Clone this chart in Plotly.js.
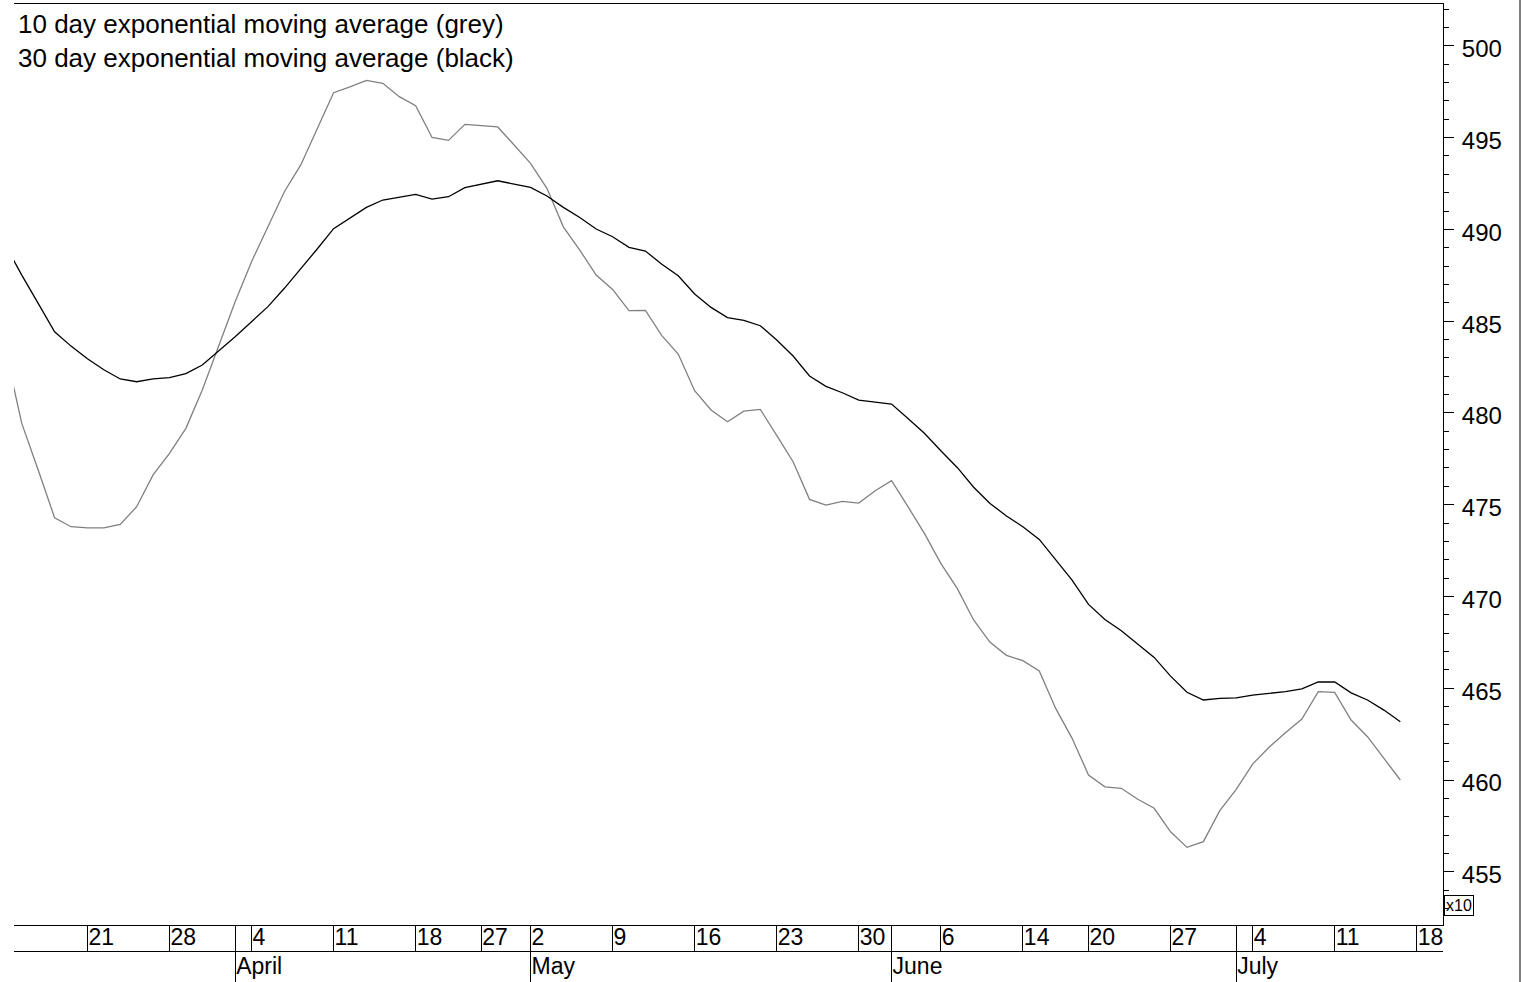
<!DOCTYPE html>
<html>
<head>
<meta charset="utf-8">
<script src="https://cdn.plot.ly/plotly-3.0.1.min.js"></script>
<style>html,body{margin:0;padding:0;background:#fff;}#chart{width:1522px;height:982px;}</style>
</head>
<body>
<div id="chart"></div>
<script>
// Trading-day index (0 = 14 March) for each point
const dayIndex = [0,1,2,3,4,5,6,7,8,9,10,11,12,13,14,15,16,17,18,19,20,21,22,23,24,25,26,27,28,29,30,31,32,33,34,35,36,37,38,39,40,41,42,43,44,45,46,47,48,49,50,51,52,53,54,55,56,57,58,59,60,61,62,63,64,65,66,67,68,69,70,71,72,73,74,75,76,77,78,79,80,81,82,83,84,85];

// 10 day exponential moving average (grey)
const ema10 = [483.43,479.43,476.89,474.29,473.80,473.74,473.74,473.93,474.89,476.62,
  477.80,479.16,481.25,483.61,486.06,488.24,490.14,492.05,493.51,495.50,
  497.45,497.77,498.12,497.96,497.23,496.74,495.01,494.85,495.72,495.65,
  495.58,494.60,493.60,492.24,490.14,488.87,487.51,486.73,485.57,485.59,
  484.21,483.21,481.21,480.16,479.52,480.10,480.19,478.78,477.34,475.29,
  474.98,475.18,475.09,475.76,476.31,474.89,473.44,471.80,470.44,468.72,
  467.50,466.79,466.50,465.94,463.90,462.27,460.27,459.63,459.55,458.95,
  458.46,457.18,456.33,456.64,458.33,459.49,460.87,461.78,462.58,463.32,
  464.81,464.77,463.27,462.36,461.18,460.00];

// 30 day exponential moving average (black)
const ema30 = [489.15,487.51,485.97,484.42,483.64,482.95,482.35,481.85,481.70,481.85,
  481.92,482.14,482.61,483.37,484.15,484.97,485.79,486.79,487.83,488.93,
  490.04,490.60,491.20,491.60,491.75,491.91,491.65,491.78,492.27,492.47,
  492.65,492.47,492.29,491.82,491.20,490.65,490.02,489.60,489.02,488.82,
  488.10,487.47,486.48,485.75,485.19,485.04,484.75,483.97,483.10,482.01,
  481.45,481.10,480.70,480.59,480.48,479.70,478.89,477.94,477.03,475.95,
  475.07,474.38,473.80,473.11,471.98,470.89,469.57,468.75,468.13,467.39,
  466.68,465.66,464.78,464.36,464.45,464.48,464.63,464.72,464.81,464.96,
  465.35,465.34,464.75,464.36,463.81,463.17];

// Day tick labels (trading-day index, label)
const dayTickIndex = [0,5,10,15,20,25,29,32,37,42,47,52,57,62,66,71,76,81,86];
const dayTickText  = ["14","21","28","4","11","18","27","2","9","16","23","30","6","14","20","27","4","11","18"];

// Month tick labels (first trading day of each month)
const monthTickIndex = [14,32,54,75];
const monthTickText  = ["April","May","June","July"];

const legendLines = ["10 day exponential moving average (grey)","30 day exponential moving average (black)"];

const xRange = [0.526, 87.6];
const yRange = [452.10, 502.28];
const FONT = "Liberation Sans, Arial, Helvetica, sans-serif";

const traces = [
  {x: dayIndex, y: ema10, xaxis: "x", yaxis: "y", type: "scatter", mode: "lines",
   line: {color: "#808080", width: 1.3}, hoverinfo: "skip"},
  {x: dayIndex, y: ema30, xaxis: "x2", yaxis: "y", type: "scatter", mode: "lines",
   line: {color: "#000000", width: 1.3}, hoverinfo: "skip"}
];

const layout = {
  width: 1522, height: 982,
  margin: {l: 14, r: 79, t: 4, b: 0, pad: 0},
  paper_bgcolor: "#fff", plot_bgcolor: "#fff",
  showlegend: false,
  font: {family: FONT, size: 24, color: "#000"},
  // month row: ticks hang from the plot bottom down through both label rows
  xaxis: {
    range: xRange, showgrid: false, zeroline: false,
    showline: true, linecolor: "#000", linewidth: 1, mirror: true,
    tickmode: "array", tickvals: monthTickIndex, ticktext: monthTickText,
    ticks: "outside", ticklen: 57, tickwidth: 1, tickcolor: "#000",
    ticklabelposition: "outside right", ticklabelstandoff: 20,
    tickfont: {family: FONT, size: 23, color: "#000"}, fixedrange: true
  },
  // day row
  xaxis2: {
    overlaying: "x", anchor: "free", position: 31/978,
    range: xRange, showgrid: false, zeroline: false,
    showline: true, linecolor: "#000", linewidth: 1,
    tickmode: "array", tickvals: dayTickIndex, ticktext: dayTickText,
    ticks: "inside", ticklen: 26, tickwidth: 1, tickcolor: "#000",
    ticklabelposition: "inside right", ticklabeloverflow: "allow",
    tickfont: {family: FONT, size: 23, color: "#000"}, fixedrange: true
  },
  yaxis: {
    domain: [57/978, 1], range: yRange, side: "right",
    showgrid: false, zeroline: false,
    showline: true, linecolor: "#000", linewidth: 1,
    tick0: 455, dtick: 5, ticks: "outside", ticklen: 10, tickwidth: 1, tickcolor: "#000",
    ticklabelstandoff: 3, ticklabelshift: 3,
    minor: {dtick: 1, ticks: "outside", ticklen: 5, tickcolor: "#000", tickwidth: 1},
    tickfont: {family: FONT, size: 24, color: "#000"}, fixedrange: true
  },
  annotations: [
    {xref: "paper", yref: "paper", x: 0, y: 1, xshift: 2, yshift: -3,
     xanchor: "left", yanchor: "top", align: "left", showarrow: false,
     text: legendLines.join("<br>"), font: {family: FONT, size: 26, color: "#000"}},
    {xref: "paper", yref: "paper", x: 1, y: (982-905.5)/978, xshift: 1,
     xanchor: "left", yanchor: "middle", showarrow: false, text: "x10",
     bordercolor: "#000", borderwidth: 1, borderpad: 1,
     font: {family: FONT, size: 16, color: "#000"}}
  ],
  shapes: [
    {type: "line", xref: "paper", yref: "paper", x0: (1520-14)/1429, x1: (1520-14)/1429, y0: 0, y1: 982/978,
     line: {color: "#000", width: 1}}
  ]
};

Plotly.newPlot("chart", traces, layout, {staticPlot: true, displayModeBar: false});
</script>
</body>
</html>
